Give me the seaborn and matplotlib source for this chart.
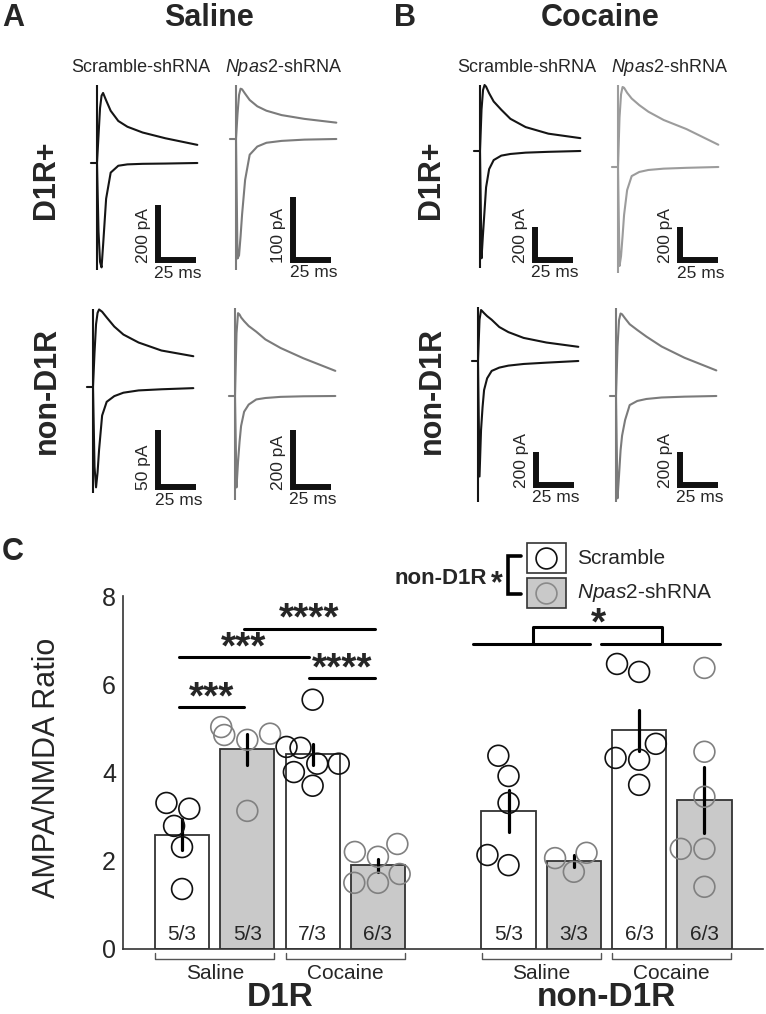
import numpy as np
import pandas as pd
import seaborn as sns
import matplotlib.pyplot as plt
from matplotlib.patches import Rectangle

W, H = 766, 1014

# ---------------- example traces (ms after stimulus, pA from baseline) ----------------
t_up = [0, 1, 2, 3, 4, 6, 9, 14, 20, 30, 45, 66]
t_down = [-4, 0, 1, 2, 3, 4, 6, 9, 14, 20, 30, 45, 66]

sal_d1_scr_up = [0, 100, 200, 245, 255, 228, 190, 153, 132, 111, 90, 66]
sal_d1_scr_down = [0, 0, -250, -360, -380, -300, -130, -35, -10, -5, -3, -2, 0]
sal_d1_np_up = [0, 40, 70, 80, 79, 72, 62, 52, 45, 38, 32, 26]
sal_d1_np_down = [0, 0, -190, -185, -155, -120, -65, -25, -12, -6, -3, -1, 0]
sal_nd_scr_up = [0, 30, 55, 65, 68, 66, 61, 53, 46, 39, 32, 27]
sal_nd_scr_down = [0, 0, -70, -88, -75, -55, -25, -13, -8, -5, -3, -2, -1]
sal_nd_np_up = [0, 220, 290, 285, 275, 262, 245, 225, 198, 168, 132, 88]
sal_nd_np_down = [0, 0, -320, -230, -160, -105, -55, -30, -12, -7, -3, -1, 0]
coc_d1_scr_up = [0, 250, 370, 400, 390, 350, 300, 250, 195, 145, 105, 78]
coc_d1_scr_down = [0, 0, -650, -500, -360, -220, -110, -55, -28, -18, -10, -5, 0]
coc_d1_np_up = [0, 300, 440, 485, 480, 450, 415, 375, 335, 285, 230, 135]
coc_d1_np_down = [0, 0, -600, -540, -420, -290, -140, -55, -30, -18, -10, -5, 0]
coc_nd_scr_up = [0, 250, 309, 300, 290, 272, 250, 206, 175, 140, 112, 86]
coc_nd_scr_down = [0, 0, -700, -418, -280, -176, -105, -60, -40, -28, -18, -10, 0]
coc_nd_np_up = [0, 300, 460, 500, 495, 470, 435, 400, 360, 300, 232, 155]
coc_nd_np_down = [0, 0, -620, -480, -330, -240, -145, -55, -30, -18, -9, -4, 0]

# stimulus artifact extents (pA) and scale bar sizes (pA)
artifact_hi = [284, 86, 68, 308, 400, 497, 327, 533]
artifact_lo = [-390, -208, -93, -364, -709, -642, -855, -642]
scale_pa = [200, 100, 50, 200, 200, 200, 200, 200]
scale_ms = 25

# ---------------- AMPA/NMDA ratios ----------------
d1_sal_scr = [3.31, 3.18, 2.79, 2.31, 1.36]
d1_sal_np = [4.74, 5.03, 4.88, 4.85, 3.13]
d1_coc_scr = [5.65, 4.56, 4.58, 4.20, 4.20, 4.01, 3.70]
d1_coc_np = [2.38, 2.20, 2.09, 1.50, 1.70, 1.50]
nd_sal_scr = [4.38, 3.92, 3.31, 1.90, 2.13]
nd_sal_np = [1.75, 2.18, 2.06]
nd_coc_scr = [6.46, 6.28, 4.65, 4.29, 4.33, 3.72]
nd_coc_np = [6.37, 4.47, 3.45, 2.27, 2.27, 1.41]
n_labels = ["5/3", "5/3", "7/3", "6/3", "5/3", "3/3", "6/3", "6/3"]

conds = ["D1R Sal Scr", "D1R Sal Np", "D1R Coc Scr", "D1R Coc Np",
         "non Sal Scr", "non Sal Np", "non Coc Scr", "non Coc Np"]
order = conds[:4] + ["gap"] + conds[4:]
groups = [d1_sal_scr, d1_sal_np, d1_coc_scr, d1_coc_np,
          nd_sal_scr, nd_sal_np, nd_coc_scr, nd_coc_np]
rows = []
for c, vals in zip(conds, groups):
    for v in vals:
        rows.append({"cond": c, "ratio": v, "shrna": "Scramble" if c.endswith("Scr") else "Npas2"})
df = pd.DataFrame(rows)

# ---------------- style ----------------
sns.set_theme(style="white")
plt.rcParams["font.family"] = ["Liberation Sans", "DejaVu Sans"]
plt.rcParams["mathtext.fontset"] = "custom"
plt.rcParams["mathtext.it"] = "Liberation Sans:italic"
plt.rcParams["mathtext.rm"] = "Liberation Sans"

fig = plt.figure(figsize=(W / 100, H / 100), dpi=100)
fig.patch.set_facecolor("white")

# overlay in pixel coords for titles / labels / legend
ov = fig.add_axes([0, 0, 1, 1])
ov.set_xlim(0, W)
ov.set_ylim(H, 0)
ov.axis("off")

MS_PX = 25 / 38

def trace_ax(x0, base, papp, top, bottom):
    left, right = x0 - 14, x0 + 112
    ax = fig.add_axes([left / W, 1 - bottom / H, (right - left) / W, (bottom - top) / H])
    ax.set_xlim((left - x0) * MS_PX, (right - x0) * MS_PX)
    ax.set_ylim((base - bottom) * papp, (base - top) * papp)
    ax.axis("off")
    return ax

# x0 px, baseline px, pA per px, row, colour, scale-bar corner (ms, pA)
panels = [
    (sal_d1_scr_up, sal_d1_scr_down, 97, 163, 3.64, 0, "#151515", (40, -353)),
    (sal_d1_np_up, sal_d1_np_down, 236, 139, 1.59, 0, "#7b7b7b", (37.5, -192)),
    (sal_nd_scr_up, sal_nd_scr_down, 93, 387, 0.877, 1, "#151515", (43, -88)),
    (sal_nd_np_up, sal_nd_np_down, 235, 396, 3.5, 1, "#7b7b7b", (38, -318)),
    (coc_d1_scr_up, coc_d1_scr_down, 480, 151, 6.06, 0, "#151515", (36, -660)),
    (coc_d1_np_up, coc_d1_np_down, 618, 167, 6.06, 0, "#9c9c9c", (41, -564)),
    (coc_nd_scr_up, coc_nd_scr_down, 478, 361, 6.06, 1, "#151515", (38, -751)),
    (coc_nd_np_up, coc_nd_np_down, 616, 396, 6.06, 1, "#7b7b7b", (42, -539)),
]
row_px = [(75, 290), (298, 515)]

for k, (up, down, x0, base, papp, row, col, (ct, ci)) in enumerate(panels):
    ax = trace_ax(x0, base, papp, *row_px[row])
    sns.lineplot(x=t_up, y=up, sort=False, estimator=None, color=col, lw=1.5, ax=ax)
    sns.lineplot(x=t_down, y=down, sort=False, estimator=None, color=col, lw=1.5, ax=ax)
    ax.vlines(0, artifact_lo[k], artifact_hi[k], color=col, lw=1.5)
    bar = scale_pa[k]
    ax.plot([ct, ct, ct + scale_ms], [ci + bar, ci, ci], color="#111111", lw=4.3,
            solid_joinstyle="miter", solid_capstyle="butt")
    ax.annotate(f"{bar} pA", (ct, ci), xytext=(-5, -2), textcoords="offset points",
                rotation=90, ha="right", va="bottom", fontsize=12.5)
    ax.annotate(f"{scale_ms} ms", (ct + scale_ms / 2, ci), xytext=(1, -4),
                textcoords="offset points", ha="center", va="top", fontsize=12.5)

# panel titles
for txt, x in [("A", 13), ("B", 405)]:
    ov.text(x, 18, txt, fontsize=22, fontweight="bold", ha="center", va="center")
ov.text(209, 18, "Saline", fontsize=22, fontweight="bold", ha="center", va="center")
ov.text(600, 18, "Cocaine", fontsize=22, fontweight="bold", ha="center", va="center")
for x in [141, 527]:
    ov.text(x, 67, "Scramble-shRNA", fontsize=13, ha="center", va="center")
for x in [284, 670]:
    ov.text(x, 67, r"$\it{Npas2}$-shRNA", fontsize=13, ha="center", va="center")
for x in [46, 431]:
    ov.text(x, 180, "D1R+", fontsize=22, fontweight="bold", rotation=90, ha="center", va="center")
    ov.text(x + 1, 390, "non-D1R", fontsize=22, fontweight="bold", rotation=90, ha="center", va="center")
ov.text(13, 552, "C", fontsize=22, fontweight="bold", ha="center", va="center")
ov.text(47, 768, "AMPA/NMDA Ratio", fontsize=22, rotation=90, ha="center", va="center")

# ---------------- bar chart ----------------
bx = fig.add_axes([123 / W, 1 - 949 / H, 640 / W, 353 / H])
sns.barplot(data=df, x="cond", y="ratio", hue="shrna", order=order,
            hue_order=["Scramble", "Npas2"], dodge=False,
            palette={"Scramble": "white", "Npas2": "#c9c9c9"}, width=0.83,
            errorbar="se", err_kws={"color": "black", "linewidth": 2.3},
            edgecolor="#333333", linewidth=1.3, legend=False, ax=bx)
sns.swarmplot(data=df, x="cond", y="ratio", hue="shrna", order=order,
              hue_order=["Scramble", "Npas2"], dodge=False,
              palette={"Scramble": "#111111", "Npas2": "#808080"}, size=15,
              linewidth=0, legend=False, warn_thresh=1, ax=bx)
for coll in bx.collections:
    fc = coll.get_facecolors()
    coll.set_edgecolors(fc)
    coll.set_facecolors("none")
    coll.set_linewidths(1.2)

bx.set_xlim(-0.904, 8.897)
bx.set_ylim(0, 8)
bx.set_yticks([0, 2, 4, 6, 8])
bx.set_xticks([1.5, 6.5])
bx.set_xticklabels(["", ""])
bx.set_xlabel("")
bx.set_ylabel("")
bx.tick_params(axis="y", labelsize=18, length=3, width=1, color="#333333", pad=2, direction="out")
bx.tick_params(axis="x", length=4, width=1, color="#333333", direction="out")
sns.despine(ax=bx)
for s in ["left", "bottom"]:
    bx.spines[s].set_color("#333333")
    bx.spines[s].set_linewidth(1.2)
bx.patch.set_alpha(0)

pos = [order.index(c) for c in conds]
for p, lab in zip(pos, n_labels):
    bx.text(p, 0.33, lab, ha="center", va="center", fontsize=15)

# treatment brackets under the axis
for a, b, lab in [(0, 1, "Saline"), (2, 3, "Cocaine"), (5, 6, "Saline"), (7, 8, "Cocaine")]:
    l, r = a - 0.41, b + 0.41
    bx.plot([l, l, r, r], [-0.09, -0.23, -0.23, -0.09], color="#555555", lw=1, clip_on=False)
    bx.text((a + b) / 2, -0.55, lab, ha="center", va="center", fontsize=15)
bx.text(1.5, -1.1, "D1R", ha="center", va="center", fontsize=24, fontweight="bold")
bx.text(6.5, -1.1, "non-D1R", ha="center", va="center", fontsize=24, fontweight="bold")

# significance (D1R)
sig = [(0, 1, 5.49, "***"), (0, 2, 6.62, "***"), (1, 3, 7.26, "****"), (2, 3, 6.14, "****")]
for a, b, y, lab in sig:
    bx.plot([a - 0.05, b - 0.05], [y, y], color="black", lw=2.2, clip_on=False)
    bx.text((a + b) / 2 - 0.05, y - 0.03, lab, ha="center", va="baseline",
            fontsize=28, fontweight="bold")

# significance (non-D1R, main effect of cocaine)
y0 = 6.92
bx.plot([4.45, 6.25], [y0, y0], color="black", lw=2.2, clip_on=False)
bx.plot([6.42, 8.24], [y0, y0], color="black", lw=2.2, clip_on=False)
bx.plot([5.38, 5.38, 7.35, 7.35], [y0, 7.3, 7.3, y0], color="black", lw=2.2, clip_on=False)
bx.text(6.37, 7.12, "*", ha="center", va="baseline", fontsize=28, fontweight="bold")

# ---------------- legend ----------------
ov.text(487, 578, "non-D1R", fontsize=16, fontweight="bold", ha="right", va="center")
ov.text(497, 592, "*", fontsize=22, fontweight="bold", ha="center", va="baseline")
ov.plot([521, 508, 508, 521], [556, 556, 594, 594], color="black", lw=2.6,
        solid_joinstyle="miter")
ov.add_patch(Rectangle((527, 543), 39, 30, facecolor="white", edgecolor="#333333", lw=1.2))
ov.add_patch(Rectangle((527, 578), 39, 30, facecolor="#c9c9c9", edgecolor="#333333", lw=1.2))
ov.plot(546, 558, "o", ms=15, mfc="none", mec="#111111", mew=1.2)
ov.plot(546, 593, "o", ms=15, mfc="none", mec="#8a8a8a", mew=1.2)
ov.text(577, 558, "Scramble", fontsize=15, ha="left", va="center")
ov.text(577, 593, r"$\it{Npas2}$-shRNA", fontsize=15, ha="left", va="center")

fig.savefig("out.png", dpi=100)
